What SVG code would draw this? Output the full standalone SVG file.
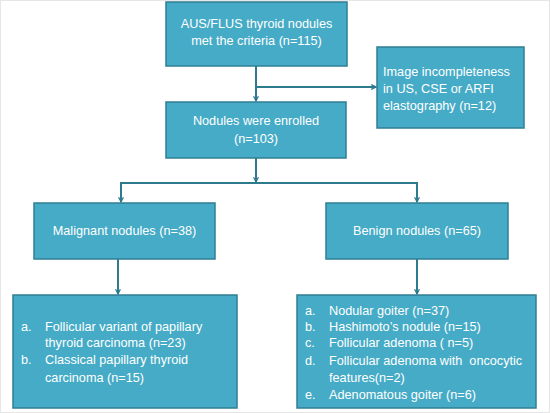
<svg xmlns="http://www.w3.org/2000/svg" width="550" height="413" viewBox="0 0 550 413">
<defs>
<style>
.box{fill:#46ABC6;stroke:#2F7F94;stroke-width:1.5}
.t{font-family:"Liberation Sans",Arial,sans-serif;font-size:12.7px;fill:#FFFFFF}
.c{text-anchor:middle}
.ln{fill:none;stroke:#2E7B90;stroke-width:2}
</style>
<marker id="ah" viewBox="0 0 10 10" refX="9" refY="5" markerWidth="6" markerHeight="6" orient="auto" markerUnits="userSpaceOnUse">
<path d="M1,1 L9,5 L1,9" fill="none" stroke="#2E7B90" stroke-width="2"/>
</marker>
</defs>
<rect x="0" y="0" width="550" height="413" fill="#FFFFFF"/>
<rect x="0.5" y="0.5" width="549" height="412" fill="none" stroke="#E6E6E6" stroke-width="1"/>
<g id="connectors">
<path class="ln" d="M256,66 V101" marker-end="url(#ah)"/>
<path class="ln" d="M256,87 H376" marker-end="url(#ah)"/>
<path class="ln" d="M256,158 V182" marker-end="url(#ah)"/>
<path class="ln" d="M121,202 V183 H417 V202"/>
<path class="ln" d="M121,190 V202" marker-end="url(#ah)"/>
<path class="ln" d="M417,190 V202" marker-end="url(#ah)"/>
<path class="ln" d="M118,259 V294" marker-end="url(#ah)"/>
<path class="ln" d="M417,259 V294" marker-end="url(#ah)"/>
</g>
<g id="n1">
<rect class="box" x="166" y="2" width="181" height="64"/>
<text class="t c" x="256.5" y="28">AUS/FLUS thyroid nodules</text>
<text class="t c" x="256.5" y="45">met the criteria  (n=115)</text>
</g>
<g id="n2">
<rect class="box" x="377" y="47" width="147" height="81"/>
<text class="t" x="383" y="76">Image incompleteness</text>
<text class="t" x="383" y="93">in US, CSE or ARFI</text>
<text class="t" x="383" y="110">elastography (n=12)</text>
</g>
<g id="n3">
<rect class="box" x="166" y="102" width="180" height="56"/>
<text class="t c" x="256" y="125">Nodules were enrolled</text>
<text class="t c" x="256" y="143">(n=103)</text>
</g>
<g id="n4">
<rect class="box" x="34" y="203" width="181" height="56"/>
<text class="t c" x="124.5" y="235">Malignant nodules (n=38)</text>
</g>
<g id="n5">
<rect class="box" x="326" y="203" width="182" height="56"/>
<text class="t c" x="417" y="235">Benign nodules (n=65)</text>
</g>
<g id="n6">
<rect class="box" x="13" y="295" width="224" height="113"/>
<text class="t" x="21" y="331">a.</text>
<text class="t" x="45" y="331">Follicular variant of papillary</text>
<text class="t" x="45" y="347">thyroid carcinoma (n=23)</text>
<text class="t" x="21" y="364">b.</text>
<text class="t" x="45" y="364">Classical papillary thyroid</text>
<text class="t" x="45" y="382">carcinoma (n=15)</text>
</g>
<g id="n7">
<rect class="box" x="297" y="295" width="239" height="113"/>
<text class="t" x="305" y="315">a.</text>
<text class="t" x="329" y="315">Nodular goiter (n=37)</text>
<text class="t" x="305" y="331">b.</text>
<text class="t" x="329" y="331">Hashimoto’s nodule (n=15)</text>
<text class="t" x="305" y="347">c.</text>
<text class="t" x="329" y="347">Follicular adenoma ( n=5)</text>
<text class="t" x="305" y="365">d.</text>
<text class="t" x="329" y="365" xml:space="preserve">Follicular adenoma with  oncocytic</text>
<text class="t" x="329" y="382">features(n=2)</text>
<text class="t" x="305" y="399">e.</text>
<text class="t" x="329" y="399">Adenomatous goiter (n=6)</text>
</g>
</svg>
